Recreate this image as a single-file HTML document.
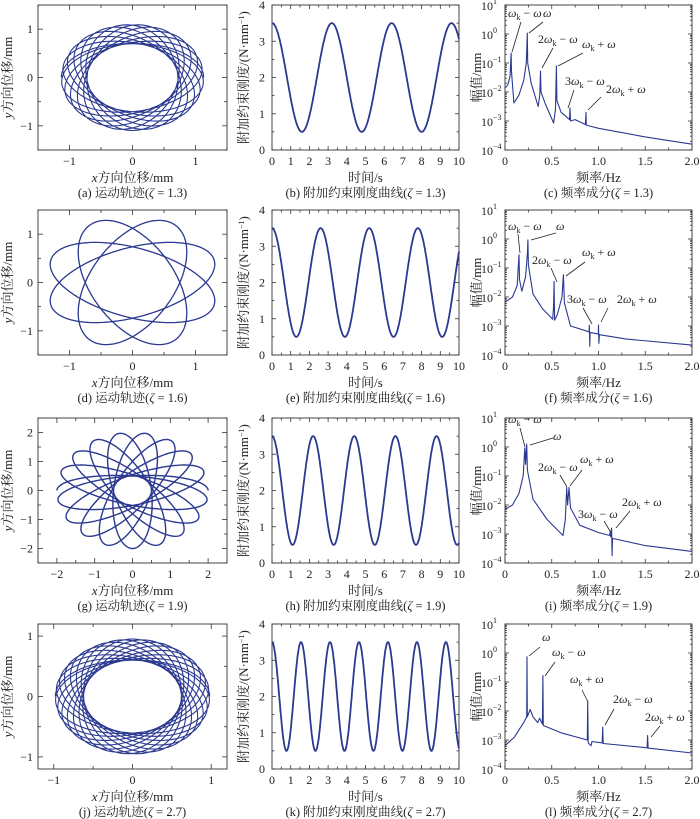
<!DOCTYPE html>
<html><head><meta charset="utf-8"><style>
body{margin:0;background:#fff}
svg{display:block;font-family:"Liberation Serif","Noto Serif CJK SC","Noto Sans CJK SC",serif}
</style></head><body>
<svg id="s" width="700" height="819" viewBox="0 0 700 819" xmlns="http://www.w3.org/2000/svg"></svg>
<script>
const S=document.getElementById('s');let out='';
const C='#2b3990';
const rows=[5,210,418,624],H=145;
const cols=[[38,189],[272,187],[505,187]];
const zetas=['1.3','1.6','1.9','2.7'];
const letters=[['a','b','c'],['d','e','f'],['g','h','i'],['j','k','l']];
function txt(x,y,s,o){o=o||{};out+=`<text x="${x}" y="${y}" font-size="${o.fs||12}" text-anchor="${o.a||'middle'}" ${o.tr?'transform="'+o.tr+'"':''} fill="#222">${s}</text>`;}
function poly(pts,w){out+=`<polyline fill="none" stroke="${C}" stroke-width="${w}" stroke-linejoin="round" points="${pts.map(p=>p[0].toFixed(1)+','+p[1].toFixed(1)).join(' ')}"/>`;}
function line(x1,y1,x2,y2,c,w){out+=`<line x1="${x1}" y1="${y1}" x2="${x2}" y2="${y2}" stroke="${c||'#333'}" stroke-width="${w||0.8}"/>`;}
function frame(x,y,w,h){out+=`<rect x="${x}" y="${y}" width="${w}" height="${h}" fill="none" stroke="#444" stroke-width="1"/>`;}
const trj=[[1.5,1.13,0.72,11,1],[1.5,0,0,0,2],[2.5,2.0,0.5,9,1],[1.2,0.98,0.62,14,1]];
rows.forEach((T,r)=>{
 let [x0,w]=cols[0];const R=trj[r][0];
 const mx=v=>x0+w/2+v/R*w/2, my=v=>T+H/2-v/R*H/2;
 frame(x0,T,w,H);
 const ticks=[];for(let v=-Math.floor(R);v<=Math.floor(R);v++)ticks.push(v);
 for(let v=-Math.floor(R*2)/2;v<=R;v+=0.5){const maj=Number.isInteger(v);const L=maj?5:3;
  line(mx(v),T+H,mx(v),T+H-L);line(mx(v),T,mx(v),T+L);line(x0,my(v),x0+L,my(v));line(x0+w,my(v),x0+w-L,my(v));}
 ticks.forEach(v=>{txt(mx(v),T+H+15,v<0?'−'+(-v):v);txt(x0-5,my(v)+4,v<0?'−'+(-v):v,{a:'end'});});
 let pts=[];
 if(r==1){[22,65,-22,-65].forEach(ang=>{const A=ang*Math.PI/180;let p=[];for(let i=0;i<=200;i++){const t=i/200*2*Math.PI;const ex=1.38*Math.cos(t),ey=0.7*Math.sin(t);p.push([mx(ex*Math.cos(A)-ey*Math.sin(A)),my(ex*Math.sin(A)+ey*Math.cos(A))]);}poly(p,1.3);});}
 else{const [_,a,b,N]=trj[r];const n=N*180;for(let i=0;i<=n;i++){const t=i/n*2*Math.PI*N;const A=t*Math.PI/(2*Math.PI*N);const ex=a*Math.cos(t),ey=b*Math.sin(t);pts.push([mx(ex*Math.cos(A)-ey*Math.sin(A)),my((ex*Math.sin(A)+ey*Math.cos(A))*(r==2?1:0.97))]);}poly(pts,r==2?1.4:1.1);}
 txt(x0+w/2,T+177,'<tspan font-style="italic">x</tspan>方向位移/mm',{fs:13});
 txt(12,T+H/2,'<tspan font-style="italic">y</tspan>方向位移/mm',{fs:13,tr:`rotate(-90 12 ${T+H/2})`});
 txt(x0+w/2,T+192,`(${letters[r][0]}) 运动轨迹(<tspan font-style="italic">ζ</tspan> = ${zetas[r]})`,{fs:12.5});
 [x0,w]=cols[1];const tx=v=>x0+v/10*w, ty=v=>T+H-v/4*H;
 frame(x0,T,w,H);
 for(let v=0;v<=10;v+=0.5){const L=Number.isInteger(v)?4:2.5;line(tx(v),T+H,tx(v),T+H-L);line(tx(v),T,tx(v),T+L);}
 for(let v=0;v<=4;v+=0.5){const L=Number.isInteger(v)?4:2.5;line(x0,ty(v),x0+L,ty(v));line(x0+w,ty(v),x0+w-L,ty(v));}
 for(let v=0;v<=10;v++)txt(tx(v),T+H+15,v);
 for(let v=0;v<=4;v++)txt(x0-7,ty(v)+4,v,{a:'end'});
 const P=[3.2,2.6,2.2,1.55][r];pts=[];for(let i=0;i<=500;i++){const t=i/50;pts.push([tx(t),ty(2+1.5*Math.cos(2*Math.PI*t/P))]);}poly(pts,1.8);
 txt(x0+w/2,T+177,'时间/s',{fs:13});
 txt(248,T+H/2,'附加约束刚度/(N·mm<tspan dy="-4" font-size="8">−1</tspan><tspan dy="4">)</tspan>',{fs:13,tr:`rotate(-90 248 ${T+H/2})`});
 txt(x0+w/2,T+192,`(${letters[r][1]}) 附加约束刚度曲线(<tspan font-style="italic">ζ</tspan> = ${zetas[r]})`,{fs:12.5});
 [x0,w]=cols[2];const fx=v=>x0+v/2*w, fy=v=>T+(1-v)/5*H;
 frame(x0,T,w,H);
 for(let v=0;v<=2.001;v+=0.25){const L=Math.abs(v*2-Math.round(v*2))<1e-6?4:2.5;line(fx(v),T+H,fx(v),T+H-L);line(fx(v),T,fx(v),T+L);}
 for(let d=-4;d<=1;d++){line(x0,fy(d),x0+4,fy(d));line(x0+w,fy(d),x0+w-4,fy(d));
  if(d<1)for(let k=2;k<10;k++){const yy=fy(d+Math.log10(k));line(x0,yy,x0+2,yy);line(x0+w,yy,x0+w-2,yy);}
  txt(x0-12,fy(d)+5,'10',{a:'end'});out+=`<text x="${x0-12}" y="${fy(d)-1}" font-size="8" fill="#222">${d<0?'−'+(-d):d}</text>`;}
 ['0','0.5','1.0','1.5','2.0'].forEach((s,i)=>txt(fx(i*0.5),T+H+15,s));
 txt(x0+w/2,T+177,'频率/Hz',{fs:13});
 txt(481,T+H/2,'幅值/mm',{fs:13,tr:`rotate(-90 481 ${T+H/2})`});
 txt(x0+w/2,T+192,`(${letters[r][2]}) 频率成分(<tspan font-style="italic">ζ</tspan> = ${zetas[r]})`,{fs:12.5});
});
const spec=[
[[0,-1.87],[0.03,-1.75],[0.055,-1.45],[0.065,-0.66],[0.07,-1.3],[0.095,-2.38],[0.15,-2.1],[0.2,-1.6],[0.228,-1.0],[0.238,0.03],[0.243,-1.0],[0.28,-1.7],[0.355,-2.5],[0.372,-2.1],[0.38,-1.28],[0.385,-2.0],[0.43,-2.4],[0.52,-3.07],[0.54,-2.6],[0.55,-1.1],[0.555,-2.3],[0.6,-2.7],[0.69,-2.95],[0.695,-2.55],[0.7,-3.0],[0.75,-2.95],[0.86,-3.12],[0.866,-2.7],[0.87,-3.14],[1.0,-3.25],[1.5,-3.55],[2.0,-3.8]],
[[0,-2.18],[0.08,-2.0],[0.13,-1.6],[0.15,-0.54],[0.155,-1.4],[0.18,-1.8],[0.22,-1.3],[0.24,-0.5],[0.245,-0.03],[0.25,-0.9],[0.3,-1.9],[0.4,-2.4],[0.51,-2.77],[0.52,-2.3],[0.525,-1.47],[0.53,-2.8],[0.56,-2.6],[0.61,-2.0],[0.625,-1.23],[0.635,-2.2],[0.7,-3.0],[0.9,-3.2],[0.902,-2.97],[0.907,-3.7],[0.91,-3.22],[0.998,-3.28],[1.0,-2.97],[1.004,-3.6],[1.01,-3.3],[1.3,-3.45],[2.0,-3.66]],
[[0,-2.15],[0.08,-2.0],[0.15,-1.6],[0.195,-1.0],[0.212,-0.03],[0.22,-0.6],[0.232,0.1],[0.24,-0.8],[0.3,-1.8],[0.45,-2.5],[0.62,-3.05],[0.645,-2.5],[0.66,-1.4],[0.67,-2.0],[0.685,-1.4],[0.7,-2.1],[0.8,-2.7],[1.0,-2.95],[1.12,-3.05],[1.125,-2.9],[1.13,-3.1],[1.14,-2.8],[1.145,-3.75],[1.15,-3.15],[1.5,-3.4],[2.0,-3.6]],
[[0,-3.2],[0.1,-2.9],[0.2,-2.4],[0.232,-2.2],[0.235,-0.13],[0.238,-2.2],[0.27,-1.95],[0.3,-2.2],[0.35,-2.4],[0.37,-2.25],[0.4,-2.45],[0.405,-0.78],[0.41,-2.5],[0.6,-2.75],[0.88,-3.0],[0.885,-1.67],[0.89,-3.1],[0.92,-3.2],[0.93,-3.05],[1.04,-3.1],[1.045,-2.55],[1.05,-3.12],[1.52,-3.27],[1.525,-2.85],[1.53,-3.28],[2.0,-3.45]]];
spec.forEach((sp,r)=>{const T=rows[r],[x0,w]=cols[2];poly(sp.map(p=>[x0+p[0]/2*w,T+(1-p[1])/5*H]),1.1);});
function ann(x,y,s){out+=`<text x="${x}" y="${y}" font-size="12" fill="#222">${s}</text>`;}
const wk='<tspan font-style="italic">ω</tspan><tspan dy="3" font-size="8">k</tspan><tspan dy="-3"> </tspan>';
const w_='<tspan font-style="italic">ω</tspan>';
const A=[
[[508,17,wk+'− '+w_],[543,17,w_],[538,43,'2'+wk+'− '+w_],[582,48,wk+'+ '+w_],[565,85,'3'+wk+'− '+w_],[606,93,'2'+wk+'+ '+w_]],
[[508,230,wk+'− '+w_],[556,230,w_],[532,264,'2'+wk+'− '+w_],[582,256,wk+'+ '+w_],[567,303,'3'+wk+'− '+w_],[617,303,'2'+wk+'+ '+w_]],
[[508,423,wk+'− '+w_],[553,440,w_],[538,471,'2'+wk+'− '+w_],[580,463,wk+'+ '+w_],[578,518,'3'+wk+'− '+w_],[622,506,'2'+wk+'+ '+w_]],
[[542,641,w_],[552,656,wk+'− '+w_],[570,683,wk+'+ '+w_],[613,703,'2'+wk+'− '+w_],[645,721,'2'+wk+'+ '+w_]]];
A.forEach(a=>a.forEach(t=>ann(...t)));
const L=[[521,22,512,52],[543,22,529,33],[553,48,542,68],[583,53,558,66],[574,90,568,108],[601,97,588,110],
[518,234,520,253],[556,233,531,240],[551,268,557,282],[585,262,566,276],[583,308,592,324],[608,308,601,322],
[520,428,525,447],[553,438,530,445],[560,475,567,487],[582,470,570,486],[604,521,610,531],[630,511,616,528],
[540,647,529,656],[555,662,545,676],[582,690,588,702],[614,709,605,725],[660,726,651,737]];
L.forEach(l=>line(...l,'#222',0.8));
S.innerHTML=out;
</script>
</body></html>
